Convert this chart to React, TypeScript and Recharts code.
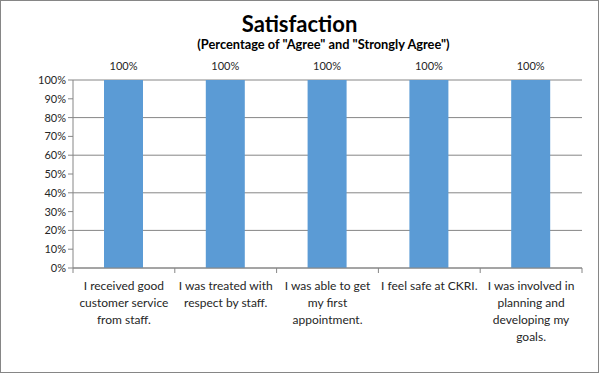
import React from 'react';
import { BarChart, Bar, XAxis, YAxis, CartesianGrid, LabelList } from 'recharts';

const categories = [
  'I received good\ncustomer service\nfrom staff.',
  'I was treated with\nrespect by staff.',
  'I was able to get\nmy first\nappointment.',
  'I feel safe at CKRI.',
  'I was involved in\nplanning and\ndeveloping my\ngoals.',
];
const agreePct = [100, 100, 100, 100, 100];
const yTicks = [0, 10, 20, 30, 40, 50, 60, 70, 80, 90, 100];

const data = categories.map((name, i) => ({ name, value: agreePct[i] }));

const W = 599;
const H = 373;
const PLOT_LEFT = 73;
const PLOT_RIGHT = 582;
const FONT = 'Lato, "Open Sans", sans-serif';
const LINE = '#868686';

const CategoryTick = (props: any) => {
  const { x, y, payload, index } = props;
  const band = (PLOT_RIGHT - PLOT_LEFT) / categories.length;
  const lines = String(payload.value).split('\n');
  const left = x - band / 2;
  return (
    <g>
      <line x1={left} x2={left} y1={y} y2={y + 5} stroke={LINE} />
      {index === categories.length - 1 && (
        <line x1={left + band} x2={left + band} y1={y} y2={y + 5} stroke={LINE} />
      )}
      <text x={x} y={y} textAnchor="middle" fontSize={12} fill="#262626" fontFamily={FONT}>
        {lines.map((l, i) => (
          <tspan key={i} x={x} dy={i === 0 ? 22 : 17}>
            {l}
          </tspan>
        ))}
      </text>
    </g>
  );
};

export default function App() {
  return (
    <div style={{ position: 'fixed', left: 0, top: 0, width: W, height: H, background: '#fff' }}>
      <div
        style={{
          position: 'absolute', left: 0, top: 0, width: W, height: H,
          boxSizing: 'border-box', border: `1px solid ${LINE}`, pointerEvents: 'none', zIndex: 2,
        }}
      />
      <div
        style={{
          position: 'absolute', left: 0, width: W, top: 10, textAlign: 'center',
          fontFamily: FONT, fontWeight: 700, fontSize: 22, color: '#000',
        }}
      >
        Satisfaction
      </div>
      <div
        style={{
          position: 'absolute', left: 187, top: 36, width: 273, textAlign: 'center',
          fontFamily: FONT, fontWeight: 700, fontSize: 12.8, color: '#000', whiteSpace: 'nowrap',
        }}
      >
        (Percentage of "Agree" and "Strongly Agree")
      </div>
      <div style={{ position: 'absolute', left: 0, top: 0 }}>
        <BarChart
          width={W}
          height={H}
          data={data}
          margin={{ top: 80, right: W - PLOT_RIGHT, bottom: 0, left: 0 }}
          barCategoryGap="31%"
        >
          <CartesianGrid vertical={false} stroke={LINE} strokeDasharray="" />
          <XAxis
            dataKey="name"
            height={105}
            interval={0}
            tickLine={false}
            tickSize={0}
            tickMargin={0}
            axisLine={{ stroke: LINE }}
            tick={<CategoryTick />}
          />
          <YAxis
            width={PLOT_LEFT}
            domain={[0, 100]}
            ticks={yTicks}
            tickFormatter={(v: number) => `${v}%`}
            tickLine={{ stroke: LINE }}
            tickSize={5}
            tickMargin={2}
            axisLine={{ stroke: LINE }}
            tick={{ fontSize: 11, fill: '#262626', fontFamily: FONT }}
          />
          <Bar dataKey="value" fill="#5B9BD5" barSize={39} isAnimationActive={false}>
            <LabelList
              dataKey="value"
              position="top"
              offset={10}
              formatter={(v: any) => `${v}%`}
              style={{ fontSize: 11, fill: '#262626', fontFamily: FONT }}
            />
          </Bar>
        </BarChart>
      </div>
    </div>
  );
}
